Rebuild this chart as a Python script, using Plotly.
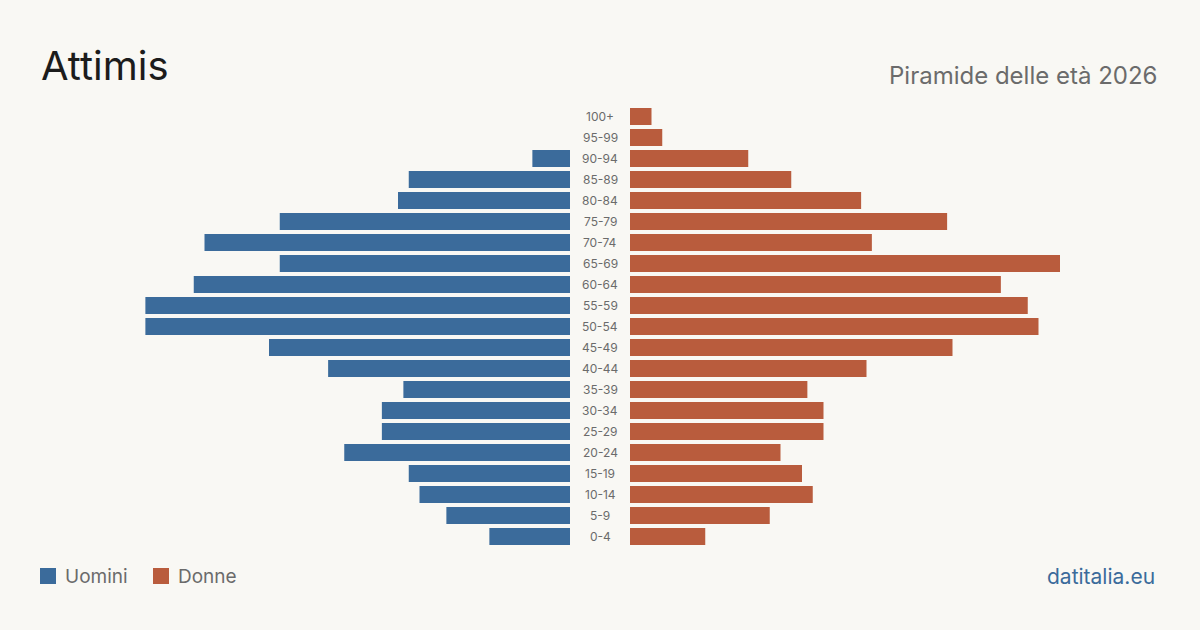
import plotly.graph_objects as go

age_groups = ["100+", "95-99", "90-94", "85-89", "80-84", "75-79", "70-74", "65-69",
              "60-64", "55-59", "50-54", "45-49", "40-44", "35-39", "30-34", "25-29",
              "20-24", "15-19", "10-14", "5-9", "0-4"]
uomini = [0, 0, 7, 30, 32, 54, 68, 54, 70, 79, 79, 56, 45, 31, 35, 35, 42, 30, 28, 23, 15]
donne = [4, 6, 22, 30, 43, 59, 45, 80, 69, 74, 76, 60, 44, 33, 36, 36, 28, 32, 34, 26, 14]

title = "Attimis"
subtitle = "Piramide delle età 2026"
legend_labels = ["Uomini", "Donne"]
source = "datitalia.eu"

BLUE = "#3b6b9b"
RED = "#b95c3d"
BG = "#f9f8f4"
FONT = "Inter"

W, H = 1200, 630
TOP, BOT = 106, 547


def px(x):
    return x / W


def py(y):
    return (BOT - y) / (BOT - TOP)


order = list(reversed(age_groups))  # bottom to top

fig = go.Figure()
fig.add_trace(go.Bar(y=age_groups, x=uomini, orientation="h",
                     marker=dict(color=BLUE, line=dict(width=0)),
                     xaxis="x", yaxis="y", name=legend_labels[0], hoverinfo="skip"))
fig.add_trace(go.Bar(y=age_groups, x=donne, orientation="h",
                     marker=dict(color=RED, line=dict(width=0)),
                     xaxis="x2", yaxis="y", name=legend_labels[1], hoverinfo="skip"))

annotations = []
for g in age_groups:
    annotations.append(dict(x=px(600), y=g, xref="paper", yref="y", text=g, showarrow=False,
                            xanchor="center", yanchor="middle",
                            font=dict(family=FONT, size=12, color="#6b6b6b")))

annotations += [
    dict(x=px(39), y=py(65), xref="paper", yref="paper", text=title, showarrow=False,
         xanchor="left", yanchor="middle", font=dict(family=FONT, size=40, color="#1c1c1c")),
    dict(x=px(1159), y=py(76), xref="paper", yref="paper", text=subtitle, showarrow=False,
         xanchor="right", yanchor="middle", font=dict(family=FONT, size=24, color="#6b6b6b")),
    dict(x=px(63), y=py(576), xref="paper", yref="paper", text=legend_labels[0], showarrow=False,
         xanchor="left", yanchor="middle", font=dict(family=FONT, size=19, color="#6b6b6b")),
    dict(x=px(176), y=py(576), xref="paper", yref="paper", text=legend_labels[1], showarrow=False,
         xanchor="left", yanchor="middle", font=dict(family=FONT, size=19, color="#6b6b6b")),
    dict(x=px(1157), y=py(576), xref="paper", yref="paper", text=source, showarrow=False,
         xanchor="right", yanchor="middle", font=dict(family=FONT, size=21, color="#3b6b9b")),
]

shapes = [
    dict(type="rect", xref="paper", yref="paper", x0=px(40), x1=px(56), y0=py(584), y1=py(568),
         fillcolor=BLUE, line=dict(width=0)),
    dict(type="rect", xref="paper", yref="paper", x0=px(153), x1=px(169), y0=py(584), y1=py(568),
         fillcolor=RED, line=dict(width=0)),
]

fig.update_layout(
    width=W, height=H,
    margin=dict(l=0, r=0, t=TOP, b=H - BOT),
    paper_bgcolor=BG, plot_bgcolor=BG,
    showlegend=False,
    bargap=0.19,
    xaxis=dict(domain=[px(140), px(570)], range=[80, 0], visible=False, fixedrange=True),
    xaxis2=dict(domain=[px(630), px(1060)], range=[0, 80], visible=False, fixedrange=True),
    yaxis=dict(categoryorder="array", categoryarray=order, range=[-0.5, 20.5],
               visible=False, fixedrange=True),
    annotations=annotations,
    shapes=shapes,
    font=dict(family=FONT),
)

fig.write_html("out.html")
